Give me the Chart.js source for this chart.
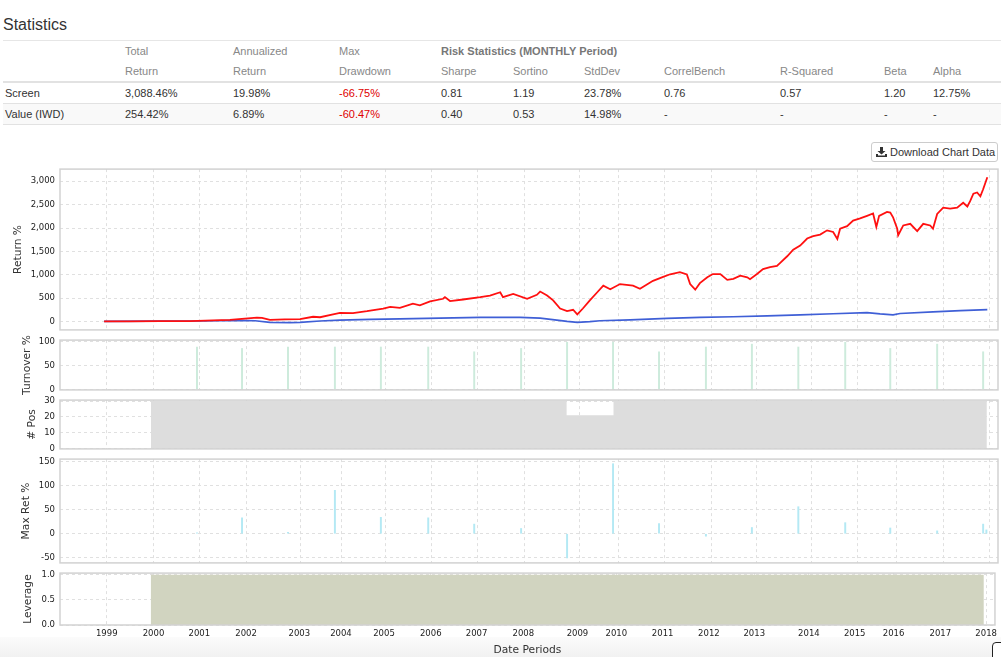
<!DOCTYPE html>
<html>
<head>
<meta charset="utf-8">
<script src="https://cdn.jsdelivr.net/npm/chart.js@4.4.1/dist/chart.umd.min.js"></script>
<style>
body { margin:0; background:#fff; font-family:"Liberation Sans", Arial, sans-serif; color:#333; width:1001px; height:657px; overflow:hidden; position:relative; }
.heading { position:absolute; left:3px; top:14px; font-size:16px; line-height:22px; color:#333; }
table.stats { position:absolute; left:3px; top:40px; width:998px; border-collapse:collapse; table-layout:fixed; font-size:11px; }
table.stats th, table.stats td { padding:0 0 0 2px; text-align:left; white-space:nowrap; }
table.stats thead tr:first-child { border-top:1px solid #e6e6e6; }
table.stats th { font-weight:normal; color:#888; height:20px; }
table.stats th.risk { font-weight:bold; color:#777; }
table.stats thead tr:last-child th { border-bottom:2px solid #e2e2e2; }
table.stats td { height:20px; border-bottom:1px solid #e2e2e2; color:#333; }
table.stats tbody tr:nth-child(2) td { background:#f9f9f9; }
table.stats td.neg { color:#e00000; }
.dl { position:absolute; left:871px; top:142px; width:125px; height:18px; border:1px solid #ccc; border-radius:3px; font-size:11px; line-height:18px; color:#333; box-sizing:content-box; }
.dl svg { position:absolute; left:4px; top:4px; }
.dl span { position:absolute; left:18px; top:0; }
canvas { position:absolute; left:0; }
.foot { position:absolute; left:0; top:637px; width:1001px; height:20px; background:linear-gradient(to bottom, #fbfbfb, #f1f1f1); }
.corner { position:absolute; left:992px; top:642px; width:20px; height:30px; border:1.5px solid #222; border-radius:4px; background:#fff; }
</style>
</head>
<body>
<div class="heading">Statistics</div>
<table class="stats">
  <colgroup>
    <col style="width:120px"><col style="width:108px"><col style="width:106px"><col style="width:102px">
    <col style="width:72px"><col style="width:71px"><col style="width:80px"><col style="width:116px">
    <col style="width:104px"><col style="width:49px"><col style="width:70px">
  </colgroup>
  <thead>
    <tr><th></th><th>Total</th><th>Annualized</th><th>Max</th><th class="risk" colspan="7">Risk Statistics (MONTHLY Period)</th></tr>
    <tr><th></th><th>Return</th><th>Return</th><th>Drawdown</th><th>Sharpe</th><th>Sortino</th><th>StdDev</th><th>CorrelBench</th><th>R-Squared</th><th>Beta</th><th>Alpha</th></tr>
  </thead>
  <tbody>
    <tr><td>Screen</td><td>3,088.46%</td><td>19.98%</td><td class="neg">-66.75%</td><td>0.81</td><td>1.19</td><td>23.78%</td><td>0.76</td><td>0.57</td><td>1.20</td><td>12.75%</td></tr>
    <tr><td>Value (IWD)</td><td>254.42%</td><td>6.89%</td><td class="neg">-60.47%</td><td>0.40</td><td>0.53</td><td>14.98%</td><td>-</td><td>-</td><td>-</td><td>-</td></tr>
  </tbody>
</table>
<div class="dl">
  <svg width="11" height="10" viewBox="0 0 11 10"><path d="M4 0h3v4h2.5L5.5 7.5 1.5 4H4z" fill="#333"/><path d="M0 7h2v1.5h7V7h2v3H0z" fill="#333"/></svg>
  <span>Download Chart Data</span>
</div>
<div class="foot"></div>
<canvas id="cRet" width="1001" height="181" style="top:159px"></canvas>
<canvas id="cTurn" width="1001" height="70" style="top:330px"></canvas>
<canvas id="cPos" width="1001" height="69" style="top:390px"></canvas>
<canvas id="cMax" width="1001" height="124" style="top:449px"></canvas>
<canvas id="cLev" width="1001" height="94" style="top:563px"></canvas>
<div class="corner"></div>
<script>
// cumulative return %, Screen (red)
const screenYears = [1998.94, 1999.50, 2000.14, 2000.79, 2001.28, 2001.65, 2001.97, 2002.23, 2002.34, 2002.51,
  2002.83, 2003.16, 2003.44, 2003.59, 2003.87, 2004.02, 2004.30, 2004.60, 2004.95, 2005.10,
  2005.31, 2005.59, 2005.74, 2005.96, 2006.24, 2006.28, 2006.39, 2006.67, 2007.04, 2007.25,
  2007.47, 2007.53, 2007.75, 2008.05, 2008.26, 2008.33, 2008.48, 2008.61, 2008.76, 2008.91,
  2009.04, 2009.13, 2009.25, 2009.40, 2009.56, 2009.69, 2009.84, 2010.05, 2010.33, 2010.48,
  2010.76, 2010.98, 2011.13, 2011.34, 2011.49, 2011.56, 2011.67, 2011.77, 2011.93, 2012.05,
  2012.21, 2012.36, 2012.49, 2012.64, 2012.79, 2012.85, 2013.00, 2013.13, 2013.28, 2013.43,
  2013.50, 2013.65, 2013.78, 2013.93, 2014.08, 2014.21, 2014.36, 2014.51, 2014.64, 2014.73,
  2014.79, 2014.94, 2015.07, 2015.22, 2015.37, 2015.50, 2015.57, 2015.63, 2015.80, 2015.87,
  2015.93, 2016.02, 2016.04, 2016.15, 2016.30, 2016.45, 2016.58, 2016.73, 2016.79, 2016.88,
  2017.01, 2017.16, 2017.31, 2017.44, 2017.53, 2017.59, 2017.66, 2017.74, 2017.81, 2017.87, 2017.96];
const screenRet = [0, 3, 5, 8, 25, 35, 60, 80, 75, 35,
  45, 50, 100, 90, 150, 185, 180, 220, 275, 312,
  290, 380, 345, 430, 485, 520, 437, 470, 520, 555,
  625, 520, 590, 485, 570, 640, 555, 450, 277, 220,
  250, 150, 277, 450, 625, 765, 690, 800, 765, 700,
  870, 955, 1010, 1055, 1005, 800, 680, 820, 945, 1015,
  1015, 890, 910, 980, 945, 905, 1015, 1120, 1165, 1190,
  1255, 1395, 1535, 1625, 1775, 1825, 1860, 1950, 1915, 1765,
  1985, 2040, 2160, 2205, 2260, 2310, 2020, 2260, 2345, 2330,
  2230, 1985, 1845, 2055, 2090, 1935, 2090, 2055, 1985, 2300,
  2435, 2415, 2435, 2540, 2460, 2575, 2735, 2760, 2680, 2830, 3085];

// cumulative return %, Value (IWD) (blue)
const valueYears = [1998.94, 1999.93, 2001.00, 2001.87, 2002.19, 2002.51, 2002.94, 2003.16, 2003.59, 2004.02,
  2004.67, 2005.31, 2006.17, 2007.04, 2007.47, 2007.90, 2008.33, 2008.69, 2008.91, 2009.13,
  2009.40, 2009.62, 2010.27, 2011.06, 2011.77, 2012.49, 2013.22, 2013.93, 2014.64, 2015.37,
  2015.65, 2015.93, 2016.08, 2016.79, 2017.38, 2017.96];
const valueRet = [0, 5, 10, 25, 15, -20, -25, -20, 10, 30,
  45, 55, 70, 85, 90, 85, 70, 30, 0, -20,
  -5, 15, 35, 65, 85, 100, 120, 140, 165, 190,
  160, 140, 170, 205, 230, 255];

// yearly rebalance dates
const rebalYears = [2000.94, 2001.91, 2002.90, 2003.91, 2004.90, 2005.92, 2006.91, 2007.92, 2008.91,
  2009.90, 2010.89, 2011.90, 2012.89, 2013.89, 2014.90, 2015.87, 2016.88, 2017.87];
const turnover = [89, 86, 89, 89, 89, 89, 79, 86, 99, 99, 79, 89, 95, 89, 99, 86, 95, 79];

const maxRetYears = [2000.94, 2001.91, 2002.90, 2003.91, 2004.90, 2005.92, 2006.91, 2007.92, 2008.91,
  2009.90, 2010.89, 2011.90, 2012.89, 2013.89, 2014.90, 2015.87, 2016.88, 2017.87, 2017.94];
const maxRet = [2, 33, 3, 90, 34, 33, 20, 11, -50, 145, 21, -5, 13, 56, 23, 12, 6, 20, 8];

const posYears = [1999.95, 2008.90, 2009.91, 2017.95];
const positions = [30, 21, 30, 30];

const levYears = [1999.95, 2017.95];
const leverage = [1, 1];

const tickYears = [1999.00, 2000.01, 2001.00, 2002.01, 2003.16, 2004.06, 2004.99, 2006.00, 2006.99, 2008.00,
  2009.17, 2010.01, 2011.01, 2012.01, 2012.99, 2014.17, 2015.16, 2016.00, 2017.01, 2018.00];
const tickLabels = ['1999', '2000', '2001', '2002', '2003', '2004', '2005', '2006', '2007', '2008',
  '2009', '2010', '2011', '2012', '2013', '2014', '2015', '2016', '2017', '2018'];

const retTicks = [0, 500, 1000, 1500, 2000, 2500, 3000];
const turnTicks = [0, 50, 100];
const posTicks = [0, 10, 20, 30];
const maxTicks = [-50, 0, 50, 100, 150];
const levTicks = [0, 0.5, 1.0];

const X_MIN = 1997.99, X_MAX = 2018.19;

Chart.defaults.font.family = "'DejaVu Sans', sans-serif";
Chart.defaults.color = '#222';

function pts(xs, ys) {
  return xs.map((x, i) => ({ x: x, y: ys[i] }));
}

// light frame round each panel
const frame = {
  id: 'frame',
  afterDraw(chart) {
    const { ctx, chartArea: a } = chart;
    ctx.save();
    ctx.strokeStyle = '#d2d2d2';
    ctx.lineWidth = 1.5;
    ctx.strokeRect(a.left, a.top, a.right - a.left, a.bottom - a.top);
    ctx.restore();
  }
};

function panel(id, cfg) {
  const last = !!cfg.last;
  return new Chart(document.getElementById(id), {
    type: cfg.type,
    data: { datasets: cfg.datasets },
    options: {
      responsive: false,
      animation: false,
      events: [],
      layout: { padding: { left: cfg.padLeft, right: 3, top: 8, bottom: last ? 0 : 8 } },
      plugins: { legend: { display: false }, tooltip: { enabled: false } },
      scales: {
        x: {
          type: 'linear', min: X_MIN, max: X_MAX, offset: false,
          afterBuildTicks: s => { s.ticks = tickYears.map(v => ({ value: v })); },
          afterFit: s => { s.height = last ? 32 : 0; },
          grid: { color: '#e0e0e0', drawTicks: false, offset: false },
          border: { display: false, dash: [3, 3] },
          ticks: { display: last, padding: 4, maxRotation: 0, autoSkip: false, font: { size: 8.5 },
                   callback: (v, i) => tickLabels[i] },
          title: { display: last, text: 'Date Periods', color: '#333', font: { size: 10.7 }, padding: { top: 0, bottom: 0 } }
        },
        y: {
          min: cfg.min, max: cfg.max,
          afterBuildTicks: s => { s.ticks = cfg.ticks.map(v => ({ value: v })); },
          afterFit: s => { s.width = 60 - cfg.padLeft; },
          grid: { color: '#e0e0e0', drawTicks: false },
          border: { display: false, dash: [3, 3] },
          ticks: { padding: 5, autoSkip: false, font: { size: 8.5 }, callback: cfg.fmt },
          title: { display: true, text: cfg.title, color: '#333', font: { size: 10.7 }, padding: { top: 0, bottom: 0 } }
        }
      }
    },
    plugins: [frame]
  });
}

panel('cRet', {
  type: 'line', title: 'Return %', padLeft: 12, min: -181, max: 3261, ticks: retTicks,
  fmt: v => v.toLocaleString('en-US'),
  datasets: [
    { type: 'line', data: pts(screenYears, screenRet), borderColor: '#ff1010', borderWidth: 1.8, pointRadius: 0, tension: 0 },
    { type: 'line', data: pts(valueYears, valueRet), borderColor: '#3f5fd6', borderWidth: 1.7, pointRadius: 0, tension: 0 }
  ]
});

panel('cTurn', {
  type: 'bar', title: 'Turnover %', padLeft: 21, min: -1, max: 103.5, ticks: turnTicks,
  fmt: v => String(v),
  datasets: [
    { type: 'bar', data: pts(rebalYears, turnover), backgroundColor: '#cdebdc', barThickness: 1.3, grouped: false }
  ]
});

panel('cPos', {
  type: 'line', title: '# Pos', padLeft: 26, min: -0.2, max: 30.6, ticks: posTicks,
  fmt: v => String(v),
  datasets: [
    { type: 'line', data: pts(posYears, positions), stepped: true, fill: 'origin', backgroundColor: '#dddddd',
      borderWidth: 0, pointRadius: 0 }
  ]
});

panel('cMax', {
  type: 'bar', title: 'Max Ret %', padLeft: 20, min: -60.3, max: 154.6, ticks: maxTicks,
  fmt: v => String(v),
  datasets: [
    { type: 'bar', data: pts(maxRetYears, maxRet), backgroundColor: '#b4e9f4', barThickness: 1.3, grouped: false }
  ]
});

panel('cLev', {
  type: 'line', title: 'Leverage', padLeft: 22, min: 0, max: 1.033, ticks: levTicks, last: true,
  fmt: v => v.toFixed(1),
  datasets: [
    { type: 'line', data: pts(levYears, leverage), stepped: true, fill: 'origin', backgroundColor: '#d1d4c0',
      borderWidth: 0, pointRadius: 0 }
  ]
});
</script>
</body>
</html>
